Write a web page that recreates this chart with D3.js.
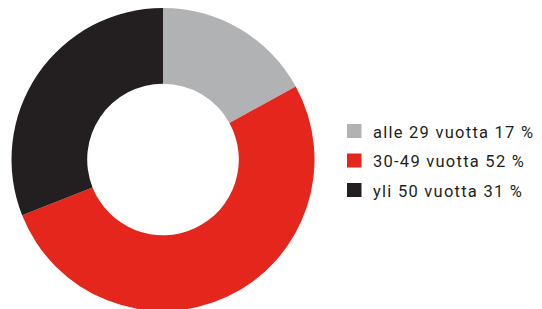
<!DOCTYPE html>
<html lang="fi">
<head>
<meta charset="UTF-8">
<title>Ikäjakauma</title>
<style>
  body { margin: 0; background: #fff; }
  svg { display: block; }
  .legend text {
    font-family: 'Roboto', sans-serif;
    font-size: 16.5px;
    fill: #231f20;
    letter-spacing: 1.25px;
  }
</style>
</head>
<body>
<div id="chart"></div>
<script src="https://d3js.org/d3.v7.min.js"></script>
<script>
// data
const categories = ['alle 29 vuotta', '30-49 vuotta', 'yli 50 vuotta'];
const shares = [17, 52, 31];
const colors = ['#b1b2b4', '#e4261c', '#231f20'];

const width = 542, height = 309;
const cx = 163, cy = 159.5, outerR = 151.5, innerR = 75.8;

const svg = d3.select('#chart').append('svg')
    .attr('width', width)
    .attr('height', height);

const pie = d3.pie().sort(null).value(d => d);
const arc = d3.arc().innerRadius(innerR).outerRadius(outerR);
const color = d3.scaleOrdinal().domain(categories).range(colors);

svg.append('g')
    .attr('transform', `translate(${cx},${cy})`)
    .selectAll('path')
    .data(pie(shares))
    .join('path')
    .attr('d', arc)
    .attr('fill', (d, i) => color(categories[i]));

// legend
const rowY = d3.scalePoint().domain(categories).range([131, 190]);
const legend = svg.append('g').attr('class', 'legend');
const rows = legend.selectAll('g')
    .data(categories)
    .join('g')
    .attr('transform', d => `translate(347,${rowY(d)})`);

rows.append('rect')
    .attr('x', 0).attr('y', -7)
    .attr('width', 14.5).attr('height', 14)
    .attr('fill', d => color(d));

rows.append('text')
    .attr('x', 26)
    .attr('y', 6.5)
    .text((d, i) => `${d} ${shares[i]} %`);
</script>
</body>
</html>
